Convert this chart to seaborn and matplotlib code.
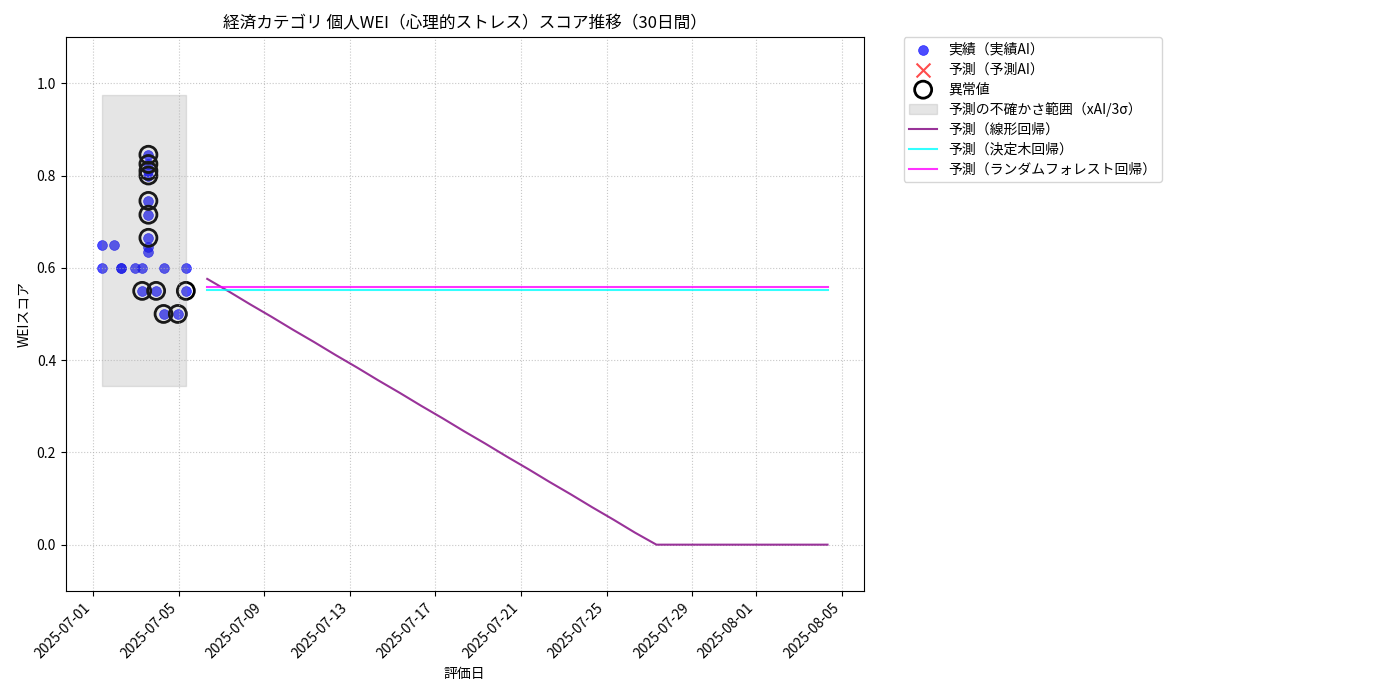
import pandas as pd
import matplotlib
matplotlib.use('Agg')
import matplotlib.pyplot as plt
import matplotlib.dates as mdates
import seaborn as sns

plt.rcParams['font.family'] = ['Noto Sans CJK JP', 'DejaVu Sans']

# 実績データ（評価日時とスコア）
actual_dates = ['2025-07-01 10:00', '2025-07-01 10:00', '2025-07-01 23:00',
                '2025-07-02 07:00', '2025-07-02 07:00', '2025-07-02 23:00',
                '2025-07-03 07:00', '2025-07-03 07:00',
                '2025-07-03 14:00', '2025-07-03 14:00', '2025-07-03 14:00',
                '2025-07-03 14:00', '2025-07-03 14:00', '2025-07-03 14:00',
                '2025-07-03 14:00', '2025-07-03 14:00', '2025-07-03 14:00',
                '2025-07-03 22:40', '2025-07-04 07:00', '2025-07-04 07:00',
                '2025-07-04 23:00', '2025-07-05 08:00', '2025-07-05 08:00']
actual_scores = [0.65, 0.60, 0.65,
                 0.60, 0.60, 0.60,
                 0.60, 0.55,
                 0.845, 0.825, 0.81, 0.80, 0.745, 0.715, 0.665, 0.645, 0.635,
                 0.55, 0.60, 0.50,
                 0.50, 0.60, 0.55]
is_outlier = [False, False, False,
              False, False, False,
              False, True,
              True, True, True, True, True, True, True, False, False,
              True, False, True,
              True, False, True]

# 予測（30日間）
forecast_start = '2025-07-06 08:00'
linear_pred = [0.576, 0.549, 0.521, 0.494, 0.466, 0.439, 0.411, 0.384, 0.356, 0.329,
               0.301, 0.274, 0.246, 0.219, 0.191, 0.164, 0.136, 0.109, 0.081, 0.054,
               0.026, 0.0, 0.0, 0.0, 0.0, 0.0, 0.0, 0.0, 0.0, 0.0]
tree_pred = [0.551] * 30
rf_pred = [0.558] * 30

band_lower = 0.343
band_upper = 0.974

df = pd.DataFrame({'date': pd.to_datetime(actual_dates), 'score': actual_scores, 'outlier': is_outlier})
fc = pd.DataFrame({'date': pd.date_range(forecast_start, periods=30, freq='D'),
                   'linear': linear_pred, 'tree': tree_pred, 'rf': rf_pred})

fig, ax = plt.subplots(figsize=(14, 7))

sns.scatterplot(data=df, x='date', y='score', ax=ax, color='blue', alpha=0.7,
                s=50, edgecolor='blue', linewidth=0.5, label='実績（実績AI）')
ax.scatter([], [], marker='x', color='red', alpha=0.7, s=100, label='予測（予測AI）')
out = df[df['outlier']]
ax.scatter(out['date'], out['score'], s=150, facecolors='none', edgecolors='black',
           linewidths=2, label='異常値')

ax.fill_between([df['date'].min(), df['date'].max()], band_lower, band_upper,
                color='gray', alpha=0.2, label='予測の不確かさ範囲（xAI/3σ）')

sns.lineplot(data=fc, x='date', y='linear', ax=ax, color='purple', alpha=0.8,
             label='予測（線形回帰）')
sns.lineplot(data=fc, x='date', y='tree', ax=ax, color='cyan', alpha=0.8,
             label='予測（決定木回帰）')
sns.lineplot(data=fc, x='date', y='rf', ax=ax, color='magenta', alpha=0.8,
             label='予測（ランダムフォレスト回帰）')

ax.set_ylim(-0.1, 1.1)
ax.set_title('経済カテゴリ 個人WEI（心理的ストレス）スコア推移（30日間）', fontsize=12)
ax.set_xlabel('評価日')
ax.set_ylabel('WEIスコア')
ax.xaxis.set_major_formatter(mdates.DateFormatter('%Y-%m-%d'))
plt.setp(ax.get_xticklabels(), rotation=45, ha='right')
ax.grid(True, linestyle=':', alpha=0.7)
ax.legend(bbox_to_anchor=(1.05, 1), loc='upper left', borderaxespad=0, labelspacing=0.42)

plt.subplots_adjust(left=0.047, right=0.617, top=0.947, bottom=0.156)
plt.savefig('out.png', dpi=100)
